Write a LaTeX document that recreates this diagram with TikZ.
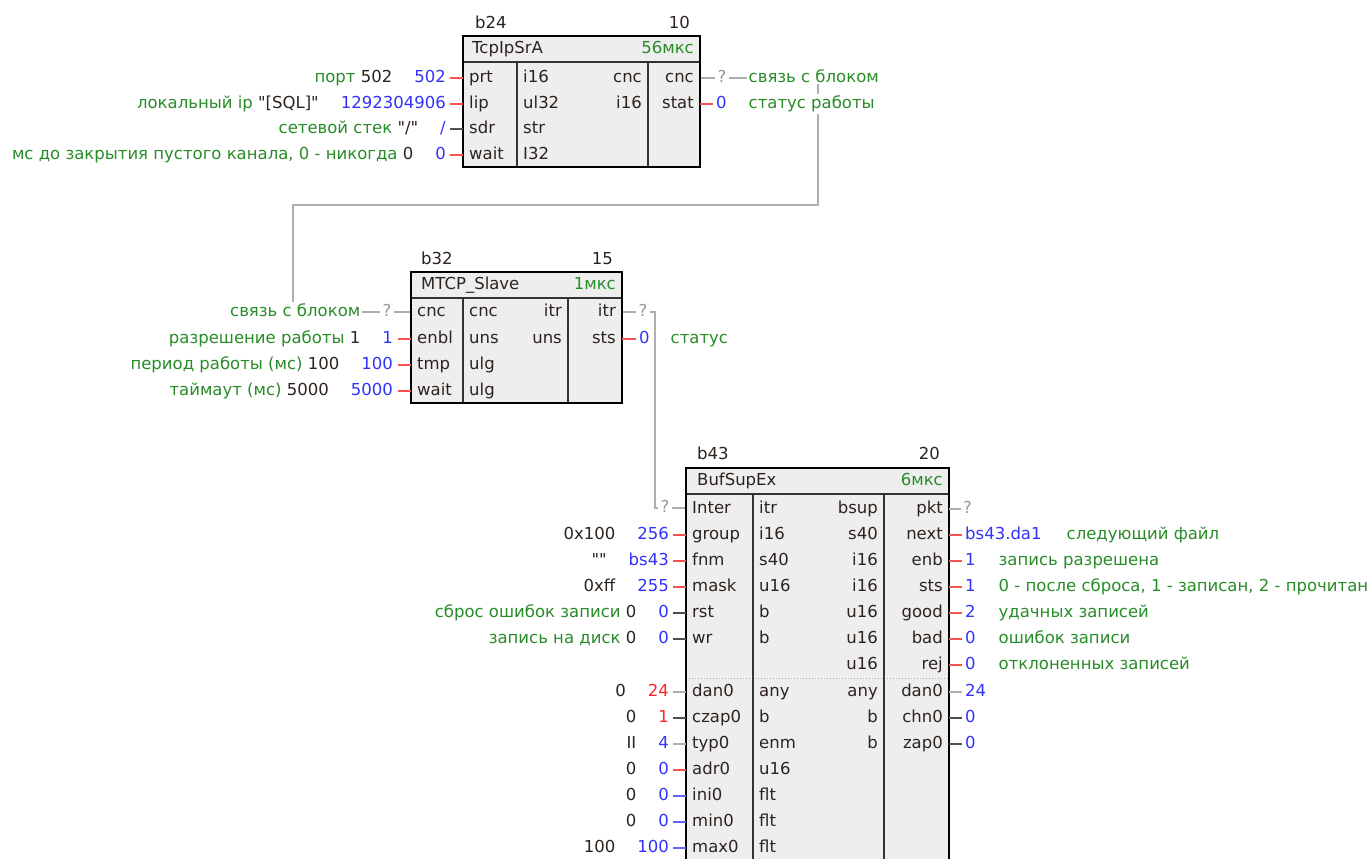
\documentclass[tikz,border=0pt]{standalone}
\usepackage{fontspec}
\setmainfont{DejaVu Sans}[Ligatures=TeXOff]
\definecolor{grn}{RGB}{40,140,40}
\definecolor{blu}{RGB}{50,50,250}
\definecolor{rdv}{RGB}{250,40,40}
\definecolor{drk}{RGB}{45,35,30}
\definecolor{qgr}{RGB}{150,150,150}
\definecolor{lred}{RGB}{250,80,80}
\definecolor{lblu}{RGB}{100,100,250}
\definecolor{lgry}{RGB}{175,175,175}
\definecolor{dgry}{RGB}{80,80,80}
\definecolor{boxfill}{RGB}{238,238,238}
\newcommand\fz{\fontsize{16.5}{18}\selectfont}
\begin{document}
\begin{tikzpicture}[x=1pt,y=-1pt,
  tx/.style={font=\fz, inner sep=0pt, text=drk, yshift=-4.6pt},
  txl/.style={tx, anchor=base west},
  txr/.style={tx, anchor=base east},
  qmark/.style={tx, text=qgr, fill=white, inner xsep=3pt, inner ysep=1pt, anchor=base},
  cmt/.style={tx, text=grn, fill=white, inner sep=1.5pt, anchor=base west},
  cmtr/.style={tx, fill=white, inner sep=1.5pt, anchor=base east},
  blk/.style={draw=black, line width=2.6pt, fill=boxfill},
  hdiv/.style={draw=black!80, line width=1.6pt},
  vdiv/.style={draw=black!80, line width=1.3pt},
  stub/.style={line width=1.4pt},
  wire/.style={draw=lgry, line width=1.4pt},
]
\useasboundingbox (0,0) rectangle (1371,859);
\fill[white] (0,0) rectangle (1371,859);
\clip (0,0) rectangle (1371,859);

% ---------- connectors ----------
\coordinate (b24cnc) at (700,78);
\coordinate (b32cnc) at (411,312);
\coordinate (b32itr) at (622,312);
\coordinate (b43inter) at (686,508);
\draw[wire] (b24cnc) -| (818,205) -| (293,312) -- (b32cnc);
\draw[wire] (b32itr) -| (655,508) -- (b43inter);

% ---------- block b24 ----------
\draw[blk] (463,36) rectangle (700,167);
\draw[hdiv] (463,62) -- (700,62);
\draw[vdiv] (517,62) -- (517,167);
\draw[vdiv] (648,62) -- (648,167);
\draw[line width=2.6pt] (463,36) rectangle (700,167);
\node[txl] (b24id) at (475,24) {b24};
\node[txr] (b24no) at (690,24) {10};
\node[txl] (b24ty) at (472,49) {TcpIpSrA};
\node[txr, text=grn] (b24tm) at (694,49) {56мкс};
\foreach \y/\a/\b in {78/prt/i16, 104/lip/ul32, 129/sdr/str, 155/wait/I32}{
  \node[txl] (b24a\y) at (469,\y) {\a};
  \node[txl] (b24b\y) at (523,\y) {\b};
}
\node[txr] (b24c78) at (642,78) {cnc};
\node[txr] (b24c104) at (642,104) {i16};
\node[txr] (b24d78) at (694,78) {cnc};
\node[txr] (b24d104) at (694,104) {stat};
% inputs
\foreach \y/\lc/\v/\c in {
  78/lred/502/{\color{grn}порт \color{drk}502},
  104/lred/1292304906/{\color{grn}локальный ip \color{drk}"[SQL]"},
  129/dgry/{/}/{\color{grn}сетевой стек \color{drk}"/"},
  155/lred/0/{\color{grn}мс до закрытия пустого канала, 0 - никогда \color{drk}0}}{
  \draw[stub, draw=\lc] (450,\y) -- (463,\y);
  \node[txr] (b24v\y) at (446,\y) {\c\hspace{22pt}\color{blu}\v};
}
% outputs
\draw[stub, draw=lred] (700,104) -- (713,104);
\node[qmark] (b24q) at (722,78) {?};
\node[txl, text=blu] (b24o104) at (716,104) {0};
\node[cmt] (b24k78) at (747,78) {связь с блоком};
\node[cmt] (b24k104) at (747,104) {статус работы};

% ---------- block b32 ----------
\draw[blk] (411,272) rectangle (622,403);
\draw[hdiv] (411,298) -- (622,298);
\draw[vdiv] (463,298) -- (463,403);
\draw[vdiv] (568,298) -- (568,403);
\draw[line width=2.6pt] (411,272) rectangle (622,403);
\node[txl] (b32id) at (421,260) {b32};
\node[txr] (b32no) at (613,260) {15};
\node[txl] (b32ty) at (421,285) {MTCP\_Slave};
\node[txr, text=grn] (b32tm) at (616,285) {1мкс};
\foreach \y/\a/\b in {312/cnc/cnc, 339/enbl/uns, 365/tmp/ulg, 391/wait/ulg}{
  \node[txl] (b32a\y) at (417,\y) {\a};
  \node[txl] (b32b\y) at (469,\y) {\b};
}
\node[txr] (b32c312) at (562,312) {itr};
\node[txr] (b32c339) at (562,339) {uns};
\node[txr] (b32d312) at (616,312) {itr};
\node[txr] (b32d339) at (616,339) {sts};
\node[qmark] (b32qi) at (387,312) {?};
\node[cmtr, text=grn] (b32k312) at (362,312) {связь с блоком};
\foreach \y/\v/\c in {
  339/1/{\color{grn}разрешение работы \color{drk}1},
  365/100/{\color{grn}период работы (мс) \color{drk}100},
  391/5000/{\color{grn}таймаут (мс) \color{drk}5000}}{
  \draw[stub, draw=lred] (398,\y) -- (411,\y);
  \node[txr] (b32v\y) at (393,\y) {\c\hspace{22pt}\color{blu}\v};
}
\draw[stub, draw=lred] (622,339) -- (636,339);
\node[qmark] (b32qo) at (643,312) {?};
\node[txl, text=blu] (b32o339) at (639,339) {0};
\node[cmt] (b32k339) at (669,339) {статус};

% ---------- block b43 ----------
\draw[blk] (686,468) rectangle (949,900);
\draw[hdiv] (686,494) -- (949,494);
\draw[lgry, line width=1pt, dotted] (686,678) -- (949,678);
\draw[vdiv] (753,494) -- (753,900);
\draw[vdiv] (884,494) -- (884,900);
\draw[line width=2.6pt] (686,468) rectangle (949,900);
\node[txl] (b43id) at (697,455) {b43};
\node[txr] (b43no) at (940,455) {20};
\node[txl] (b43ty) at (697,481) {BufSupEx};
\node[txr, text=grn] (b43tm) at (943,481) {6мкс};
\foreach \y/\a/\b in {509/Inter/itr, 535/group/i16, 561/fnm/s40, 587/mask/u16,
  613/rst/b, 639/wr/b, 692/dan0/any, 718/czap0/b, 744/typ0/enm, 770/adr0/u16,
  796/ini0/flt, 822/min0/flt, 848/max0/flt}{
  \node[txl] (b43a\y) at (692,\y) {\a};
  \node[txl] (b43b\y) at (759,\y) {\b};
}
\foreach \y/\c/\d in {509/bsup/pkt, 535/s40/next, 561/i16/enb, 587/i16/sts,
  613/u16/good, 639/u16/bad, 665/u16/rej, 692/any/dan0, 718/b/chn0, 744/b/zap0}{
  \node[txr] (b43c\y) at (878,\y) {\c};
  \node[txr] (b43d\y) at (943,\y) {\d};
}
% inputs
\node[qmark] (b43qi) at (665,508) {?};
\foreach \y/\lc/\vc/\v/\c in {
  535/lred/blu/256/{0x100},
  561/lred/blu/bs43/{""},
  587/lred/blu/255/{0xff},
  613/dgry/blu/0/{\color{grn}сброс ошибок записи \color{drk}0},
  639/dgry/blu/0/{\color{grn}запись на диск \color{drk}0},
  692/lgry/rdv/24/0,
  718/dgry/rdv/1/0,
  744/lgry/blu/4/II,
  770/lred/blu/0/0,
  796/lblu/blu/0/0,
  822/lblu/blu/0/0,
  848/lblu/blu/100/100}{
  \draw[stub, draw=\lc] (673,\y) -- (686,\y);
  \node[txr] (b43v\y) at (669,\y) {\c\hspace{22pt}\color{\vc}\v};
}
% outputs
\draw[stub, draw=lgry] (949,509) -- (961,509);
\node[txl, text=qgr] (b43qo) at (963,509) {?};
\foreach \y/\lc/\v in {535/lred/bs43.da1, 561/lred/1, 587/lred/1, 613/lred/2,
  639/lred/0, 665/lred/0, 692/lgry/24, 718/dgry/0, 744/dgry/0}{
  \draw[stub, draw=\lc] (949,\y) -- (962,\y);
  \node[txl, text=blu] (b43o\y) at (965,\y) {\v};
}
\node[cmt] (b43k535) at (1065,535) {следующий файл};
\node[cmt] (b43k561) at (997,561) {запись разрешена};
\node[cmt] (b43k587) at (997,587) {0 - после сброса, 1 - записан, 2 - прочитан};
\node[cmt] (b43k613) at (997,613) {удачных записей};
\node[cmt] (b43k639) at (997,639) {ошибок записи};
\node[cmt] (b43k665) at (997,665) {отклоненных записей};
\end{tikzpicture}
\end{document}
